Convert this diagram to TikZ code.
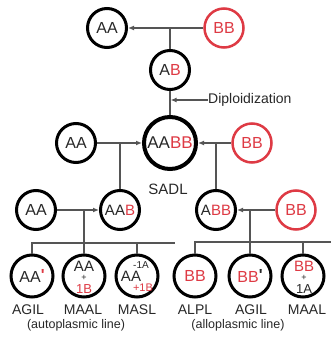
\documentclass[tikz,border=0pt]{standalone}
\usepackage{fontspec}
\setmainfont{Liberation Sans}
\usetikzlibrary{arrows.meta,calc}
\definecolor{myred}{RGB}{222,58,68}
\definecolor{conncol}{RGB}{85,85,85}
\definecolor{ink}{RGB}{40,40,40}
\newcommand\myfs[1]{\fontsize{#1}{#1}\selectfont}
\begin{document}
\begin{tikzpicture}[x=1pt,y=-1pt,
  circ/.style={circle,draw=black,line width=3pt,minimum size=39pt,inner sep=0pt,font=\myfs{16},text=ink},
  rcirc/.style={circ,draw=myred,line width=2.5pt,text=myred},
  bcirc/.style={circ,minimum size=42pt},
  conn/.style={draw=conncol,line width=1.2pt},
  arr/.style={conn,-{Latex[length=6pt,width=5pt]}},
  lbl/.style={font=\myfs{14},inner sep=0pt,anchor=base,text=ink},
  note/.style={font=\myfs{12.5},inner sep=0pt,anchor=base,text=ink},
  txt/.style={inner sep=0pt,anchor=base,text=ink}]
\useasboundingbox[fill=white] (0,0) rectangle (331,344);
% top
\node[circ] (aa1) at (107,28) {AA};
\node[rcirc] (bb1) at (224,28) {BB};
\node[circ] (ab) at (170,70) {A\textcolor{myred}{B}};
\node[circ,minimum size=52pt,line width=4pt,font=\myfs{17}] (aabb) at (170,143) {AA\textcolor{myred}{BB}};
\node[lbl,font=\myfs{15}] (sadl) at (168,194) {SADL};
\node[circ] (aa2) at (76,143) {AA};
\node[rcirc] (bb2) at (252,143) {BB};
\node[circ,font=\myfs{15}] (aab) at (120,210) {AA\textcolor{myred}{B}};
\node[circ,font=\myfs{15}] (abb) at (216,210) {A\textcolor{myred}{BB}};
\node[circ] (aa3) at (36,210) {AA};
\node[rcirc] (bb3) at (296,210) {BB};
\node[font=\myfs{14},inner sep=0pt,anchor=west,text=ink] (dip) at (208,100) {Diploidization};
% bottom circles
\node[bcirc] (c1) at (32,276) {AA\raisebox{2pt}{\textcolor{myred}{\bfseries\textquotesingle}}};
\node[bcirc] (c2) at (84,276) {};
\node[txt,font=\myfs{15}] (c2a) at (84,271) {AA};
\node[txt,font=\myfs{9}] (c2b) at (84,280) {+};
\node[txt,font=\myfs{13},text=myred] (c2c) at (84,293) {1B};
\node[bcirc] (c3) at (137,276) {};
\node[txt,font=\myfs{15}] (c3a) at (131,281) {AA};
\node[txt,font=\myfs{10}] (c3b) at (141,268) {-1A};
\node[txt,font=\myfs{11},text=myred] (c3c) at (143,291) {+1B};
\node[bcirc,text=myred] (c4) at (195,276) {BB};
\node[bcirc] (c5) at (250,276) {\textcolor{myred}{BB}\raisebox{2pt}{\bfseries\textquotesingle}};
\node[bcirc] (c6) at (303,276) {};
\node[txt,font=\myfs{15},text=myred] (c6a) at (304,271) {BB};
\node[txt,font=\myfs{9}] (c6b) at (304,280) {+};
\node[txt,font=\myfs{13}] (c6c) at (304,293) {1A};
% labels
\node[lbl] (l1) at (28,314) {AGIL};
\node[lbl] (l2) at (83,314) {MAAL};
\node[lbl] (l3) at (137,314) {MASL};
\node[lbl] (l4) at (195,314) {ALPL};
\node[lbl] (l5) at (251,314) {AGIL};
\node[lbl] (l6) at (307,314) {MAAL};
\node[note] (auto) at (76,328) {(autoplasmic line)};
\node[note] (allo) at (238,328) {(alloplasmic line)};
% connectors
\draw[arr] (bb1) -- (aa1);
\draw[conn] (ab) -- (ab|-aa1);
\draw[conn] (ab) -- (aabb);
\draw[arr,shorten >=0.6pt] (dip) -- (ab|-dip);
\draw[arr] (aa2) -- (aabb);
\draw[arr] (bb2) -- (aabb);
\draw[conn] (aab) -- (aab|-aa2);
\draw[conn] (abb) -- (abb|-bb2);
\draw[arr] (aa3) -- (aab);
\draw[arr] (bb3) -- (abb);
\coordinate (L2) at (175,243);
\coordinate (R2) at (331,242);
\draw[conn] (c1.north) |- (L2);
\draw[conn] (c3.north) -- (c3|-L2);
\draw[conn] (c2) -- (c2|-aa3);
\draw[conn] (c4.north) |- (R2);
\draw[conn] (c6.north) -- (c6|-R2);
\draw[conn] (c5) -- (c5|-bb3);
\end{tikzpicture}
\end{document}
